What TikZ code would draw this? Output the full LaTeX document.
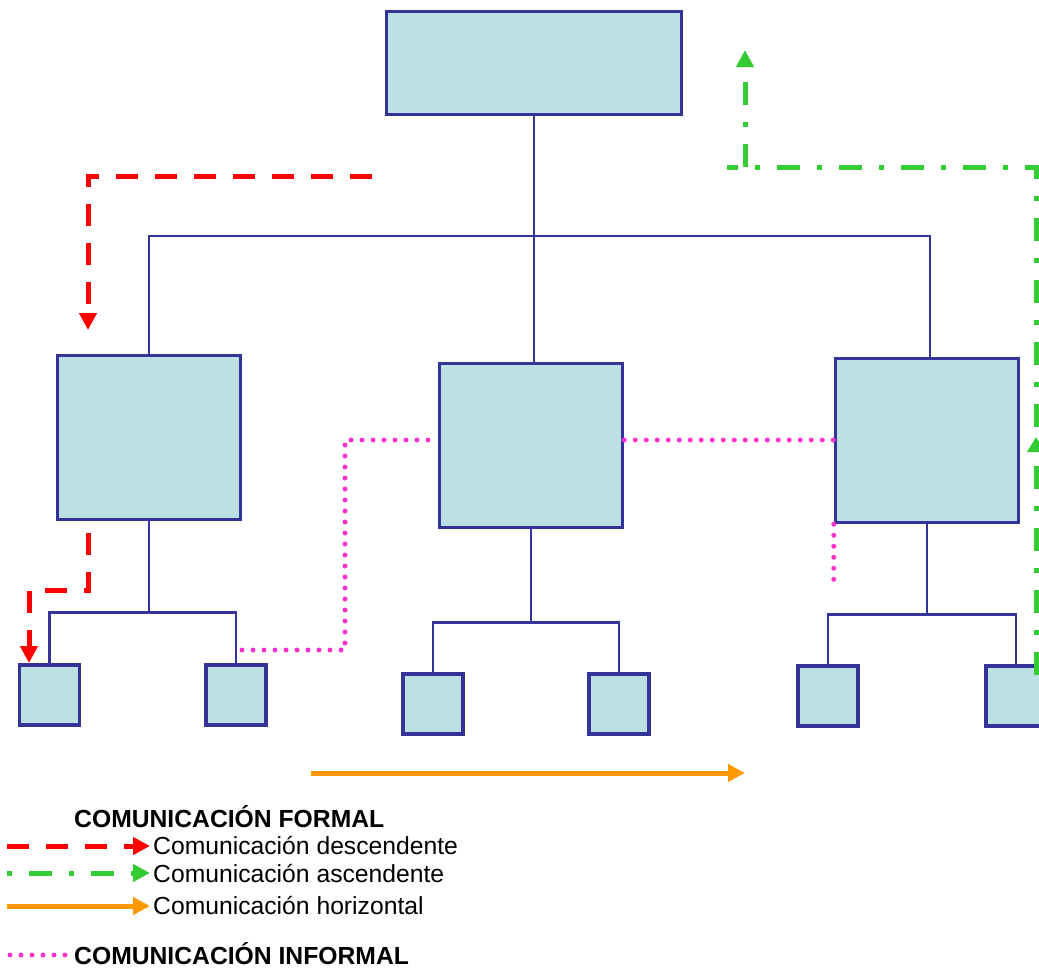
\documentclass[tikz,border=0pt]{standalone}
\usepackage{fontspec}
\setmainfont{Liberation Sans}
\usetikzlibrary{arrows.meta,decorations.markings}
\definecolor{boxfill}{HTML}{BCE0E4}
\definecolor{boxline}{HTML}{333399}
\definecolor{downcol}{HTML}{FF0000}
\definecolor{upcol}{HTML}{33CC33}
\definecolor{sidecol}{HTML}{FF9900}
\definecolor{infcol}{HTML}{FF33CC}
\begin{document}
\begin{tikzpicture}[x=1pt,y=-1pt,
  unitbox/.style={draw=boxline, fill=boxfill, line width=3.5pt, inner sep=0pt},
  topbox/.style={unitbox, minimum width=295pt, minimum height=103pt},
  bigbox/.style={unitbox, minimum width=183pt, minimum height=164pt},
  smallbox/.style={unitbox, minimum width=60pt, minimum height=60pt},
  tree/.style={draw=boxline, line width=2.5pt},
  tip/.style={-{Triangle[length=17pt,width=17pt]}},
  downline/.style={draw=downcol, line width=5pt, dash pattern=on 22pt off 17pt},
  upline/.style={draw=upcol, line width=5pt, dash pattern=on 23pt off 17pt on 5pt off 17pt},
  sideline/.style={draw=sidecol, line width=5pt},
  infline/.style={draw=infcol, line width=5pt, line cap=round, dash pattern=on 0pt off 11pt},
  legendtext/.style={anchor=base west, inner sep=0pt, font=\fontsize{24.7}{29}\selectfont},
  legendhead/.style={legendtext, font=\fontsize{24.7}{29}\selectfont\bfseries}]
\useasboundingbox (0,0) rectangle (1039,969);
\clip (0,0) rectangle (1039,969);

% organisation chart
\node[topbox] (top) at (534,63) {};
\node[bigbox] (left) at (149,437.5) {};
\node[bigbox] (mid) at (531,445.5) {};
\node[bigbox] (right) at (927,440.5) {};
\node[smallbox] (s1) at (49.5,695) {};
\node[smallbox] (s2) at (236,695) {};
\node[smallbox] (s3) at (433,704) {};
\node[smallbox] (s4) at (619,704) {};
\node[smallbox] (s5) at (828,696) {};
\node[smallbox] (s6) at (1016,696) {};

\draw[tree] (top.south) -- (top.south |- mid.north);
\draw[tree] (left.north) -- ++(0,-118) -| ([xshift=3pt]right.north);
\draw[tree] (s1.north) -- ++(0,-51) coordinate (barA) -| (s2.north);
\draw[tree] (left.south) -- (left.south |- barA);
\draw[tree] (s3.north) -- ++(0,-50) coordinate (barB) -| (s4.north);
\draw[tree] (mid.south) -- (mid.south |- barB);
\draw[tree] (s5.north) -- ++(0,-50) coordinate (barC) -| (s6.north);
\draw[tree] (right.south) -- (right.south |- barC);

% downward communication
\coordinate (d1s) at (372,176);
\coordinate (d1e) at (88,330);
\draw[downline, tip] (d1s) -| (d1e);
\coordinate (d2s) at (88,533);
\coordinate (d2m) at (88,590);
\coordinate (d2e) at (29,663);
\draw[downline, tip] (d2s) -- (d2m) -| (d2e);

% upward communication
\coordinate (u1s) at (1036,675);
\coordinate (u1m) at (1036,167);
\coordinate (u1e) at (727,167);
\draw[upline, postaction={decorate, decoration={markings,
  mark=at position 238pt with {\arrow{Triangle[length=15pt,width=17pt]}}}}]
  (u1s) -- (u1m) -- (u1e);
\coordinate (u2s) at (745,167);
\coordinate (u2e) at (745,50);
\draw[upline, tip] (u2s) -- (u2e);

% horizontal communication
\coordinate (h1) at (311,773);
\coordinate (h2) at (745,773);
\draw[sideline, tip] (h1) -- (h2);

% informal communication
\coordinate (i1) at (242,650);
\coordinate (i2) at (345,440);
\draw[infline] (i1) -| (i2) -- (mid.west |- i2);
\draw[infline] (mid.east |- i2) -- (right.west |- i2);
\draw[infline] (right.south west) -- ++(0,56);

% legend
\node[legendhead] (lf) at (74,827) {COMUNICACIÓN FORMAL};
\coordinate (l1a) at (7,846);  \coordinate (l1b) at (150,846);
\coordinate (l2a) at (7,873);  \coordinate (l2b) at (150,873);
\coordinate (l3a) at (7,906);  \coordinate (l3b) at (150,906);
\coordinate (l4a) at (10,955); \coordinate (l4b) at (70,955);
\draw[downline, tip] (l1a) -- (l1b);
\draw[upline, tip, dash pattern=on 5pt off 17pt on 23pt off 17pt] (l2a) -- (l2b);
\draw[sideline, tip] (l3a) -- (l3b);
\draw[infline] (l4a) -- (l4b);
\node[legendtext] (t1) at (153,854) {Comunicación descendente};
\node[legendtext] (t2) at (153,882) {Comunicación ascendente};
\node[legendtext] (t3) at (153,914) {Comunicación horizontal};
\node[legendhead] (li) at (74,964) {COMUNICACIÓN INFORMAL};
\end{tikzpicture}
\end{document}
